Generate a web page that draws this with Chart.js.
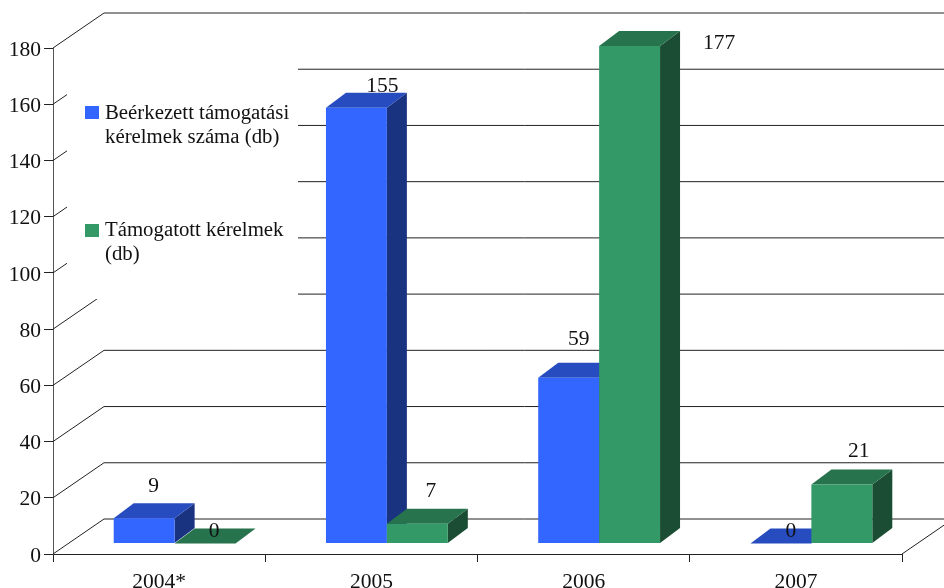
<!DOCTYPE html>
<html>
<head>
<meta charset="utf-8">
<script src="https://cdn.jsdelivr.net/npm/chart.js@4"></script>
<style>
  html, body { margin: 0; padding: 0; background: #fff; }
  #wrap { width: 944px; height: 588px; }
</style>
</head>
<body>
<div id="wrap"><canvas id="tamogatas"></canvas></div>
<script>
const categories = ["2004*", "2005", "2006", "2007"];
const received = [9, 155, 59, 0];
const supported = [0, 7, 177, 21];
const receivedLegend = ["Beérkezett támogatási", "kérelmek száma (db)"];
const supportedLegend = ["Támogatott kérelmek", "(db)"];

const serif = "'Liberation Serif', 'Times New Roman', serif";
const inkColor = "#111";

// fake 3d: how far the back wall sits, where bars stand on the floor, bar depth
const wall = { dx: 51, dy: -35 };
const barShift = { dx: 15.5, dy: -10.5 };
const barDepth = { dx: 20, dy: -15 };

// data labels sit oddly in the original, so each one gets its own nudge
const labelNudge = [
  [[9.5, -32], [9, -12]],
  [[26, -21], [13.5, -32]],
  [[10, -38], [89.5, -3]],
  [[10, -12], [17, -33.5]]
];

const barColors = [
  { front: "#3366ff", top: "#264cbf", side: "#1a3380" },
  { front: "#339966", top: "#26734d", side: "#1a4d33" }
];

const legendBoxes = [
  { swatchY: 106, textY: 119, lines: receivedLegend },
  { swatchY: 224, textY: 236, lines: supportedLegend }
];

function drawPoly(ctx, pts, color) {
  ctx.fillStyle = color;
  ctx.beginPath();
  pts.forEach((p, i) => (i ? ctx.lineTo(p[0], p[1]) : ctx.moveTo(p[0], p[1])));
  ctx.closePath();
  ctx.fill();
}

const chart3d = {
  id: "chart3d",
  beforeDatasetsDraw(chart) {
    const ctx = chart.ctx;
    const area = chart.chartArea;
    const yScale = chart.scales.y;

    // back wall and side wall lines
    ctx.save();
    ctx.strokeStyle = "#222";
    ctx.lineWidth = 1;
    yScale.ticks.forEach((t) => {
      const y = yScale.getPixelForValue(t.value);
      ctx.beginPath();
      ctx.moveTo(area.left, y);
      ctx.lineTo(area.left + wall.dx, y + wall.dy);
      ctx.lineTo(chart.width + 20, y + wall.dy);
      ctx.stroke();
    });
    // right edge of the floor
    const y0 = yScale.getPixelForValue(0);
    ctx.beginPath();
    ctx.moveTo(area.right, y0);
    ctx.lineTo(area.right + wall.dx, y0 + wall.dy);
    ctx.stroke();
    ctx.restore();

    // the legend sits on a white box that hides the walls
    ctx.save();
    ctx.fillStyle = "#fff";
    ctx.fillRect(67, 60, 231, 239);
    ctx.font = "20.8px " + serif;
    ctx.textBaseline = "alphabetic";
    legendBoxes.forEach((item, i) => {
      ctx.fillStyle = barColors[i].front;
      ctx.fillRect(85, item.swatchY, 14, 13);
      ctx.fillStyle = inkColor;
      item.lines.forEach((line, n) => ctx.fillText(line, 105, item.textY + n * 24));
    });
    ctx.restore();

    // bars, first series first so the second one covers its side face
    [0, 1].forEach((d) => {
      const c = barColors[d];
      chart.getDatasetMeta(d).data.forEach((bar) => {
        const left = bar.x - bar.width / 2;
        const right = bar.x + bar.width / 2;
        ctx.save();
        ctx.translate(barShift.dx, barShift.dy);
        drawPoly(ctx, [[right, bar.y], [right + barDepth.dx, bar.y + barDepth.dy],
          [right + barDepth.dx, bar.base + barDepth.dy], [right, bar.base]], c.side);
        drawPoly(ctx, [[left, bar.y], [left + barDepth.dx, bar.y + barDepth.dy],
          [right + barDepth.dx, bar.y + barDepth.dy], [right, bar.y]], c.top);
        bar.draw(ctx);
        ctx.restore();
      });
    });
    return false;
  },
  afterDraw(chart) {
    const ctx = chart.ctx;
    ctx.save();
    ctx.font = "21.5px " + serif;
    ctx.fillStyle = inkColor;
    ctx.textAlign = "center";
    ctx.textBaseline = "middle";
    chart.data.datasets.forEach((ds, d) => {
      chart.getDatasetMeta(d).data.forEach((bar, i) => {
        const nudge = labelNudge[i][d];
        ctx.fillText(ds.data[i], bar.x + barShift.dx + nudge[0], bar.y + barShift.dy + nudge[1]);
      });
    });
    ctx.restore();
  }
};

new Chart(document.getElementById("tamogatas"), {
  type: "bar",
  data: {
    labels: categories,
    datasets: [
      { label: receivedLegend.join(" "), data: received, backgroundColor: barColors[0].front },
      { label: supportedLegend.join(" "), data: supported, backgroundColor: barColors[1].front }
    ]
  },
  options: {
    responsive: true,
    maintainAspectRatio: false,
    animation: false,
    categoryPercentage: 0.574,
    barPercentage: 1,
    layout: { padding: { top: 48, right: 42, left: 0, bottom: 0 } },
    plugins: { legend: { display: false }, tooltip: { enabled: false } },
    scales: {
      x: {
        afterFit: (scale) => { scale.height = 34; },
        grid: { drawOnChartArea: false, tickLength: 8, color: "#222" },
        border: { color: "#222" },
        ticks: { color: inkColor, font: { family: serif, size: 21.5 }, padding: 7, maxRotation: 0 }
      },
      y: {
        min: 0,
        max: 180,
        afterFit: (scale) => { scale.width = 53; },
        grid: { drawOnChartArea: false, tickLength: 9, color: "#222" },
        border: { color: "#555" },
        ticks: { stepSize: 20, color: inkColor, font: { family: serif, size: 21.5 }, padding: 3, labelOffset: 2 }
      }
    }
  },
  plugins: [chart3d]
});
</script>
</body>
</html>
